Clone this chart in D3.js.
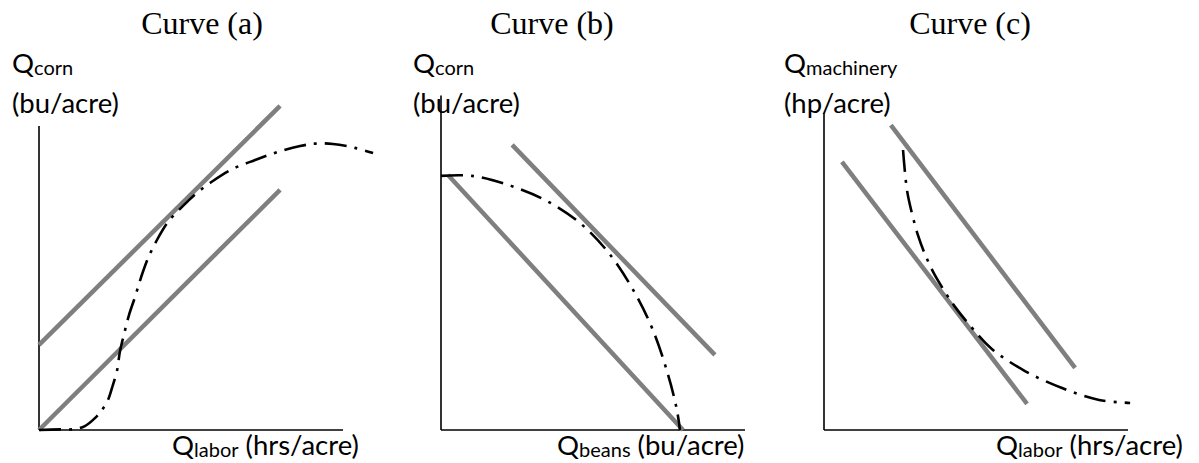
<!DOCTYPE html>
<html><head><meta charset="utf-8">
<script src="https://cdn.jsdelivr.net/npm/d3@7"></script>
<style>html,body{margin:0;padding:0;background:#fff;}</style>
</head><body>
<svg id="chart" width="1199" height="463"></svg>
<script>
// ---- data ----
const panelTitles = ["Curve (a)", "Curve (b)", "Curve (c)"];
const yLabelMain = ["Q", "Q", "Q"];
const yLabelSub = ["corn", "corn", "machinery"];
const yLabelUnit = ["(bu/acre)", "(bu/acre)", "(hp/acre)"];
const xLabelSub = ["labor", "beans", "labor"];
const xLabelUnit = [" (hrs/acre)", " (bu/acre)", " (hrs/acre)"];
const axisXMax = [100, 100, 100];
const axisYMax = [100, 110, 104.3];

// gray straight lines: [[x1,y1],[x2,y2]] per panel
const linesA = [[[0, 28], [79.3, 106.6]], [[0, 0], [79.3, 79]]];
const linesB = [[[2.3, 83.9], [79.6, 0]], [[23.4, 93.8], [90.1, 24.7]]];
const linesC = [[[5.9, 88.2], [66.8, 8.6]], [[22, 100.3], [82.6, 20.4]]];

// dash-dot curves
const curveA = [[0,0],[6.9,0.2],[11.8,0.3],[15.1,1.3],[18.4,3.9],[20.7,6.6],[22.7,9.9],[24.3,14.8],[25.7,19.7],[26.6,25.7],[28,31.6],[29.6,37.8],[31.6,43.8],[33.6,50.3],[35.9,56.6],[38.8,62.5],[42.4,68.4],[45.7,72],[49,75.3],[52.3,78.3],[57.2,81.9],[63.8,85.9],[71.1,88.8],[78.3,91.4],[85.9,93.4],[90.8,94.2],[96.7,94.1],[103.9,92.8],[109.9,91.1]];
const curveB = [[0,83.6],[10.2,83.6],[23,80.3],[34.9,75.3],[45.7,68.1],[54.9,58.6],[63.2,46.1],[69.7,32.9],[74.7,18.1],[77.6,6.6],[78.6,0]];
const curveC = [[26,92.1],[27.3,78.9],[28.9,71.4],[30.9,64.1],[32.9,58.6],[35.9,52],[38.8,47],[43.1,40.5],[48.7,33.6],[55.3,26.6],[66.1,19.4],[78.3,13.8],[90.5,9.9],[100.7,8.9]];

const panelLines = [linesA, linesB, linesC];
const panelCurves = [curveA, curveB, curveC];

// ---- layout ----
const originX = [39, 441, 824];
const originY = 430;
const pxPerUnit = 3.04;
const titleCx = [202, 552, 970];
const yLabelX = [12, 413, 784];
const xLabelX = [172, 557, 996];

const svg = d3.select("#chart");
const sansFont = "Lato, 'Open Sans', sans-serif";

panelTitles.forEach((title, i) => {
  const x = d3.scaleLinear().domain([0, 100]).range([originX[i], originX[i] + 100 * pxPerUnit]);
  const y = d3.scaleLinear().domain([0, 100]).range([originY, originY - 100 * pxPerUnit]);
  const g = svg.append("g");

  // title
  g.append("text").attr("x", titleCx[i]).attr("y", 34)
    .attr("text-anchor", "middle")
    .attr("font-family", "'Liberation Serif', 'Times New Roman', serif")
    .attr("font-size", 32).attr("fill", "#000").text(title);

  // y label
  const yl = g.append("text").attr("x", yLabelX[i]).attr("y", 73)
    .attr("font-family", sansFont).attr("font-size", 27.5).attr("fill", "#000");
  yl.append("tspan").text(yLabelMain[i]);
  yl.append("tspan").attr("font-size", 20).attr("dy", 2).text(yLabelSub[i]);
  g.append("text").attr("x", yLabelX[i]).attr("y", 113)
    .attr("font-family", sansFont).attr("font-size", 27.5).attr("fill", "#000")
    .text(yLabelUnit[i]);

  // x label
  const xl = g.append("text").attr("x", xLabelX[i]).attr("y", 455)
    .attr("font-family", sansFont).attr("font-size", 27.5).attr("fill", "#000");
  xl.append("tspan").text("Q");
  xl.append("tspan").attr("font-size", 20).attr("dy", 2).text(xLabelSub[i]);
  xl.append("tspan").attr("dy", -2).text(xLabelUnit[i]);

  // axes
  g.append("line").attr("x1", x(0)).attr("y1", y(0)).attr("x2", x(0)).attr("y2", y(axisYMax[i]))
    .attr("stroke", "#000").attr("stroke-width", 1.6);
  g.append("line").attr("x1", x(0)).attr("y1", y(0)).attr("x2", x(axisXMax[i])).attr("y2", y(0))
    .attr("stroke", "#000").attr("stroke-width", 1.6);

  // gray lines
  g.selectAll("line.gl").data(panelLines[i]).join("line").attr("class", "gl")
    .attr("x1", d => x(d[0][0])).attr("y1", d => y(d[0][1]))
    .attr("x2", d => x(d[1][0])).attr("y2", d => y(d[1][1]))
    .attr("stroke", "#7f7f7f").attr("stroke-width", 4.5);

  // dash-dot curve
  const line = d3.line().x(d => x(d[0])).y(d => y(d[1])).curve(d3.curveCatmullRom.alpha(0.5));
  g.append("path").attr("d", line(panelCurves[i]))
    .attr("fill", "none").attr("stroke", "#000").attr("stroke-width", 2.6)
    .attr("stroke-dasharray", "22,8,3,8");
});
</script>
</body></html>
